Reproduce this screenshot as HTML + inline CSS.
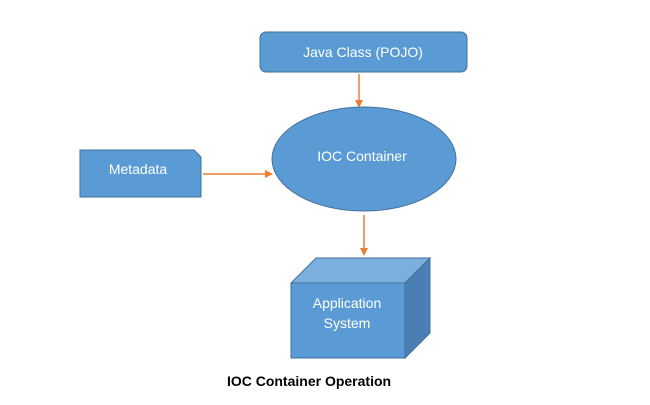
<!DOCTYPE html>
<html><head><style>body{margin:0;background:#fff;width:650px;height:400px;overflow:hidden}</style></head>
<body>
<svg width="650" height="400" xmlns="http://www.w3.org/2000/svg" font-family="Liberation Sans, sans-serif">
<defs><marker id="a" markerWidth="8" markerHeight="8" refX="7" refY="4" orient="auto" markerUnits="userSpaceOnUse"><path d="M0,0 L8,4 L0,8 z" fill="#ED7D31"/></marker></defs>
<rect x="260" y="32" width="207" height="40" rx="6" fill="#5B9BD5" stroke="#41719C" stroke-width="1"/>
<text x="363" y="57" fill="#fff" font-size="14" text-anchor="middle">Java Class (POJO)</text>
<line x1="359" y1="74" x2="359" y2="107" stroke="#ED7D31" stroke-width="1.5" marker-end="url(#a)"/>
<ellipse cx="364" cy="159" rx="92" ry="52" fill="#5B9BD5" stroke="#41719C"/>
<text x="362" y="161" fill="#fff" font-size="14" text-anchor="middle">IOC Container</text>
<path d="M80,150 H194 L201,157 V197 H80 Z" fill="#5B9BD5" stroke="#41719C"/>
<text x="138" y="174" fill="#fff" font-size="14" text-anchor="middle">Metadata</text>
<line x1="203" y1="174" x2="272" y2="174" stroke="#ED7D31" stroke-width="1.5" marker-end="url(#a)"/>
<line x1="364" y1="215" x2="364" y2="255" stroke="#ED7D31" stroke-width="1.5" marker-end="url(#a)"/>
<path d="M291,283 L316,258 H430 L405,283 Z" fill="#7AAFDE" stroke="#41719C"/>
<path d="M405,283 L430,258 V333 L405,358 Z" fill="#4A7FB5" stroke="#41719C"/>
<rect x="291" y="283" width="114" height="75" fill="#5B9BD5" stroke="#41719C"/>
<text x="347" y="308" fill="#fff" font-size="14" text-anchor="middle">Application</text>
<text x="347" y="328" fill="#fff" font-size="14" text-anchor="middle">System</text>
<text x="309" y="386" fill="#000" font-size="14" font-weight="bold" text-anchor="middle">IOC Container Operation</text>
</svg>
</body></html>
